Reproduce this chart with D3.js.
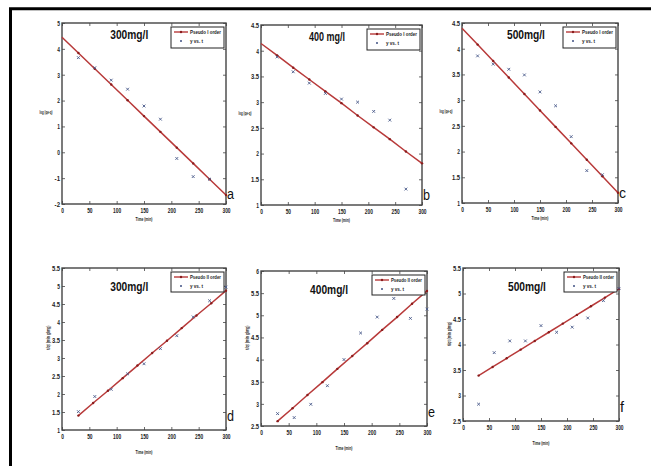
<!DOCTYPE html>
<html>
<head>
<meta charset="utf-8">
<script src="https://cdn.jsdelivr.net/npm/d3@7"></script>
<style>
body{margin:0;background:#fff;}
svg{display:block;}
text{font-family:"Liberation Sans","Arial",sans-serif;}
</style>
</head>
<body>
<svg id="_svg" width="651" height="466"></svg>
<script>
// sampling times
var tObs = [30,60,90,120,150,180,210,240,270];
var tObs2 = [30,60,90,120,150,180,210,240,270,300];
var tFit1 = [0,30,60,90,120,150,180,210,240,270,300];
var tFit2 = [30,57,84,111,138,165,192,219,246,273,300];

// pseudo I order  log(qe-q)
var obsA = [3.66,3.27,2.79,2.44,1.79,1.28,-0.24,-0.94,-1.04];
var fitA = [4.45,3.84,3.23,2.62,2.01,1.40,0.79,0.18,-0.43,-1.04,-1.65];
var obsB = [3.88,3.59,3.37,3.17,3.06,3.00,2.82,2.65,1.31];
var fitB = [4.14,3.91,3.67,3.44,3.21,2.98,2.74,2.51,2.28,2.04,1.81];
var obsC = [3.86,3.70,3.60,3.49,3.16,2.89,2.29,1.63,1.55];
var fitC = [4.40,4.08,3.76,3.44,3.12,2.80,2.48,2.16,1.84,1.52,1.20];

// pseudo II order  t/qt
var obsD = [1.51,1.93,2.13,2.56,2.84,3.26,3.62,4.14,4.59,4.97];
var fitD = [1.40,1.75,2.09,2.44,2.79,3.14,3.48,3.83,4.18,4.52,4.87];
var obsE = [2.78,2.69,2.99,3.41,4.00,4.60,4.96,5.38,4.93,5.14];
var fitE = [2.61,2.90,3.20,3.49,3.79,4.08,4.37,4.67,4.96,5.26,5.55];
var obsF = [2.83,3.84,4.07,4.07,4.37,4.24,4.34,4.52,4.86,5.10];
var fitF = [3.39,3.56,3.73,3.90,4.07,4.24,4.41,4.58,4.75,4.92,5.09];

var titles = ['300mg/l','400 mg/l','500mg/l','300mg/l','400mg/l','500mg/l'];
var letters = ['a','b','c','d','e','f'];
var yDomains = [[-2,5],[1,4.5],[1,4.5],[1,5.5],[2.5,6],[2.5,5.5]];
var yTicks = [
    [-2,-1,0,1,2,3,4,5],
    [1,1.5,2,2.5,3,3.5,4,4.5],
    [1,1.5,2,2.5,3,3.5,4,4.5],
    [1,1.5,2,2.5,3,3.5,4,4.5,5,5.5],
    [2.5,3,3.5,4,4.5,5,5.5,6],
    [2.5,3,3.5,4,4.5,5,5.5]
];
var xTicks = [0,50,100,150,200,250,300];
var legendFit = ['Pseudo I order','Pseudo I order','Pseudo I order','Pseudo II order','Pseudo II order','Pseudo II order'];
var yLabels = ['log (qe-q)','log (qe-q)','log (qe-q)','t/qt (min g/mg)','t/qt (min g/mg)','t/qt (min g/mg)'];

// plot boxes  [left, top, right, bottom]
var boxes = [
    [62,23,226,204],
    [261,25,422,205],
    [462,23,618,203],
    [62,268,226,430],
    [261,271,427,426],
    [463,268,619,421]
];

var panels = [
    {obs:obsA, fit:fitA, tObs:tObs, tFit:tFit1},
    {obs:obsB, fit:fitB, tObs:tObs, tFit:tFit1},
    {obs:obsC, fit:fitC, tObs:tObs, tFit:tFit1},
    {obs:obsD, fit:fitD, tObs:tObs2, tFit:tFit2},
    {obs:obsE, fit:fitE, tObs:tObs2, tFit:tFit2},
    {obs:obsF, fit:fitF, tObs:tObs2, tFit:tFit2}
];

var svg = d3.select('#_svg');

// outer frame (only left and top visible, picture is cropped)
svg.append('path')
    .attr('d','M10.5,470 L10.5,8.7 L655,8.7')
    .attr('fill','none')
    .attr('stroke','#000')
    .attr('stroke-width',3);

var lineColor = '#b83a3a';
var axColor = '#444';

// squeeze text to a given width (narrow look of the original)
function squeeze(sel, w) {
    sel.attr('textLength', w).attr('lengthAdjust','spacingAndGlyphs');
}

panels.forEach(function (p, i) {
    var b = boxes[i];
    var x = d3.scaleLinear().domain([0,300]).range([b[0],b[2]]);
    var y = d3.scaleLinear().domain(yDomains[i]).range([b[3],b[1]]);
    var g = svg.append('g');
    var w = b[2]-b[0], h = b[3]-b[1];

    // ticks on all four sides, inward
    var xb = d3.axisBottom(x).tickValues(xTicks).tickSize(-3).tickPadding(4).tickFormat(d3.format('d'));
    var xt = d3.axisTop(x).tickValues(xTicks).tickSize(-3).tickFormat('');
    var yl = d3.axisLeft(y).tickValues(yTicks[i]).tickSize(-3).tickPadding(2).tickFormat(function(d){return d;});
    var yr = d3.axisRight(y).tickValues(yTicks[i]).tickSize(-3).tickFormat('');

    var ax = [
        g.append('g').attr('transform','translate(0,'+b[3]+')').call(xb),
        g.append('g').attr('transform','translate(0,'+b[1]+')').call(xt),
        g.append('g').attr('transform','translate('+b[0]+',0)').call(yl),
        g.append('g').attr('transform','translate('+b[2]+',0)').call(yr)
    ];
    ax.forEach(function (a) {
        a.select('.domain').remove();
        a.selectAll('line').attr('stroke',axColor).attr('stroke-width',0.8);
        a.selectAll('text').attr('fill','#222').style('font-size','7.5px').style('font-weight','bold')
            .each(function () {
                var t = d3.select(this);
                squeeze(t, t.text().length*2.7);
            });
    });

    g.append('rect')
        .attr('x',b[0]).attr('y',b[1]).attr('width',w).attr('height',h)
        .attr('fill','none').attr('stroke',axColor).attr('stroke-width',1.4);

    // fitted line
    var fitPts = p.tFit.map(function (t, k) { return [t, p.fit[k]]; });
    g.append('path')
        .datum(fitPts)
        .attr('d', d3.line().x(function(d){return x(d[0]);}).y(function(d){return y(d[1]);}))
        .attr('fill','none').attr('stroke',lineColor).attr('stroke-width',1.5);
    g.selectAll('circle.fm')
        .data(fitPts.filter(function(d){return d[0]>0;}))
        .enter().append('circle')
        .attr('cx',function(d){return x(d[0]);})
        .attr('cy',function(d){return y(d[1]);})
        .attr('r',1.2).attr('fill','#8a1c1c');

    // observed points (x markers)
    var obsPts = p.tObs.map(function (t, k) { return [t, p.obs[k]]; });
    g.selectAll('path.ob')
        .data(obsPts)
        .enter().append('path')
        .attr('d', function (d) {
            var cx = x(d[0]), cy = y(d[1]), s = 1.4;
            return 'M'+(cx-s)+','+(cy-s)+'L'+(cx+s)+','+(cy+s)+'M'+(cx-s)+','+(cy+s)+'L'+(cx+s)+','+(cy-s);
        })
        .attr('stroke','#4a5a8a').attr('stroke-width',0.9);

    // title
    g.append('text')
        .attr('x', b[0]+w*0.41).attr('y', b[1]+ (i<3?16:23))
        .attr('text-anchor','middle')
        .style('font-size','13px').style('font-weight','bold')
        .attr('fill','#111')
        .text(titles[i])
        .call(squeeze, i==1?36:38);

    // legend
    var lx = b[2]-55, ly = b[1]+4;
    var lg = g.append('g');
    lg.append('rect').attr('x',lx).attr('y',ly).attr('width',53).attr('height',i<3?21:20)
        .attr('fill','#fff').attr('stroke','#222').attr('stroke-width',1);
    lg.append('line').attr('x1',lx+3).attr('x2',lx+17).attr('y1',ly+5).attr('y2',ly+5)
        .attr('stroke',lineColor).attr('stroke-width',1.4);
    lg.append('circle').attr('cx',lx+10).attr('cy',ly+5).attr('r',1.2).attr('fill','#8a1c1c');
    lg.append('text').attr('x',lx+19).attr('y',ly+7).style('font-size','5.5px').style('font-weight','bold')
        .attr('fill','#222').text(legendFit[i]).call(squeeze, 31);
    lg.append('path')
        .attr('d','M'+(lx+9)+','+(ly+13)+'l2,2M'+(lx+9)+','+(ly+15)+'l2,-2')
        .attr('stroke','#4a5a8a').attr('stroke-width',0.8);
    lg.append('text').attr('x',lx+19).attr('y',ly+16).style('font-size','5.5px').style('font-weight','bold')
        .attr('fill','#222').text('y vs. t').call(squeeze, 13);

    // axis labels
    g.append('text')
        .attr('x', b[0]+w/2).attr('y', b[3]+(i<3?17:10+14))
        .attr('text-anchor','middle')
        .style('font-size','5px').style('font-weight','bold').attr('fill','#222')
        .text('Time (min)').call(squeeze, 17);
    if (i < 3) {
        g.append('text')
            .attr('x', b[0]-16).attr('y', b[1]+h*0.5)
            .attr('text-anchor','middle')
            .style('font-size','5px').style('font-weight','bold').attr('fill','#222')
            .text(yLabels[i]).call(squeeze, 13);
    } else {
        g.append('text')
            .attr('transform','translate('+(b[0]-12)+','+(b[1]+h*0.43)+') rotate(-90)')
            .attr('text-anchor','middle')
            .style('font-size','5px').style('font-weight','bold').attr('fill','#222')
            .text(yLabels[i]).call(squeeze, 24);
    }

    // panel letter
    g.append('text')
        .attr('x', b[2]+1).attr('y', b[3]-(i<3?5:9))
        .style('font-size','14px').attr('fill','#111')
        .text(letters[i]).call(squeeze, letters[i]=='f'?4:7);
});
</script>
</body>
</html>
